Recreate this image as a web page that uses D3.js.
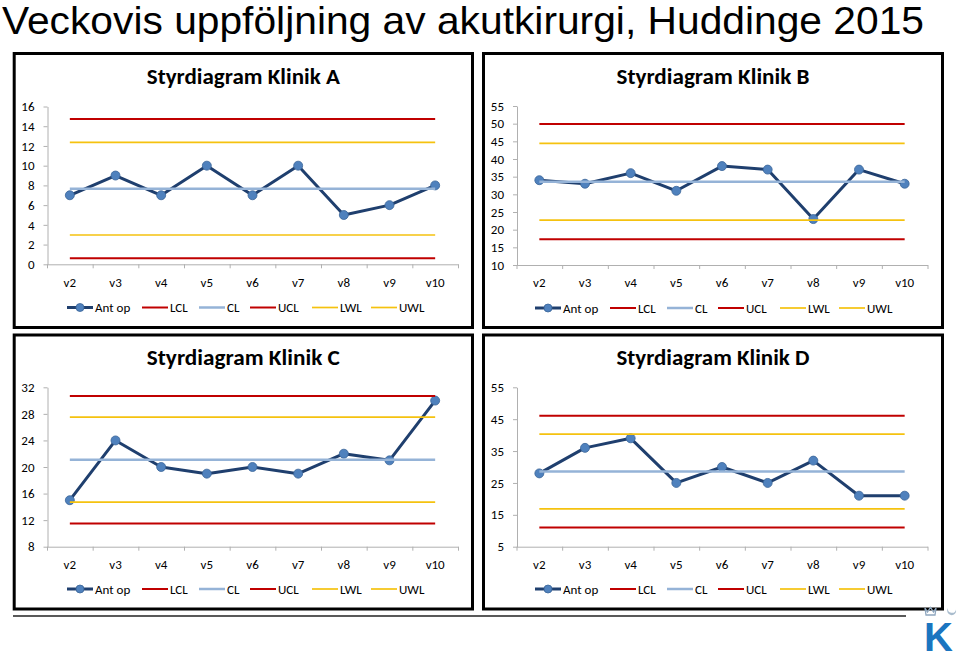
<!DOCTYPE html>
<html><head><meta charset="utf-8">
<script src="https://cdn.jsdelivr.net/npm/d3@7"></script>
<style>body{margin:0;background:#fff}svg{display:block}</style>
</head><body>
<svg id="c" width="959" height="659"></svg>
<script>
// ---- data ----
const mainTitle = "Veckovis uppföljning av akutkirurgi, Huddinge 2015";
const categories = ["v2","v3","v4","v5","v6","v7","v8","v9","v10"];
const seriesNames = ["Ant op","LCL","CL","UCL","LWL","UWL"];
const limitNames = ["LCL","CL","UCL","LWL","UWL"];

const titleA = "Styrdiagram Klinik A";
const antA = [7,9,7,10,7,10,5,6,8];
const limA = [0.62,7.67,14.72,2.97,12.37];
const ticksA = [0,2,4,6,8,10,12,14,16];

const titleB = "Styrdiagram Klinik B";
const antB = [34,33,36,31,38,37,23,37,33];
const limB = [17.3,33.56,49.9,22.7,44.4];
const ticksB = [10,15,20,25,30,35,40,45,50,55];

const titleC = "Styrdiagram Klinik C";
const antC = [15,24,20,19,20,19,22,21,30];
const limC = [11.5,21.11,30.7,14.7,27.5];
const ticksC = [8,12,16,20,24,28,32];

const titleD = "Styrdiagram Klinik D";
const antD = [28,36,39,25,30,25,32,21,21];
const limD = [11.0,28.56,46.1,16.85,40.3];
const ticksD = [5,15,25,35,45,55];

// ---- styles ----
const colors = {"Ant op":"#1F3F6E","LCL":"#C00000","CL":"#95B3D7","UCL":"#C00000","LWL":"#F5C20F","UWL":"#F5C20F"};
const widths = {"Ant op":3,"LCL":2,"CL":2.5,"UCL":2,"LWL":1.7,"UWL":1.7};
const markerFill = "#4F81BD", markerStroke = "#3A6598";
const axisColor = "#B0B0B0";
const fontUI = "Carlito, Lato, 'Open Sans', sans-serif";

const svg = d3.select("#c");

svg.append("text").attr("x",2).attr("y",34)
  .attr("font-family","'Liberation Sans', Arial, sans-serif").attr("font-size",39)
  .attr("textLength",922).attr("lengthAdjust","spacingAndGlyphs")
  .attr("fill","#000").text(mainTitle);

const panels = [
  {title:titleA, ant:antA, lim:limA, ticks:ticksA, frame:[14.2,53.5,472.5,327.5], xr:[47,458], yr:[264.3,106.5], titleY:84, legendY:307.5, legendX:67},
  {title:titleB, ant:antB, lim:limB, ticks:ticksB, frame:[483.5,53.5,942.5,327.5], xr:[516.5,927.5], yr:[265,106], titleY:84, legendY:308, legendX:535},
  {title:titleC, ant:antC, lim:limC, ticks:ticksC, frame:[14.2,335,472.5,609], xr:[47,458], yr:[546.7,387.3], titleY:365, legendY:589, legendX:67},
  {title:titleD, ant:antD, lim:limD, ticks:ticksD, frame:[483.5,335,942.5,609], xr:[516.5,927.5], yr:[546.7,387.3], titleY:365, legendY:589, legendX:535}
];

const legendOffsets = [0,75,132,183,245,304];

panels.forEach(p => {
  const g = svg.append("g");
  const [fx0,fy0,fx1,fy1] = p.frame;
  g.append("rect").attr("x",fx0).attr("y",fy0).attr("width",fx1-fx0).attr("height",fy1-fy0)
    .attr("fill","#fff").attr("stroke","#000").attr("stroke-width",3);

  g.append("text").attr("x",(fx0+fx1)/2).attr("y",p.titleY).attr("text-anchor","middle")
    .attr("font-family",fontUI).attr("font-weight","bold").attr("font-size",23)
    .attr("textLength",193).attr("lengthAdjust","spacingAndGlyphs")
    .text(p.title);

  const x = d3.scaleBand().domain(categories).range(p.xr);
  const xl = d3.scaleLinear().domain([0,categories.length]).range(p.xr);
  const dom = d3.extent(p.ticks);
  const y = d3.scaleLinear().domain(dom).range(p.yr);

  // y axis
  const ya = g.append("g").attr("transform",`translate(${p.xr[0]+0.5},0)`)
    .call(d3.axisLeft(y).tickValues(p.ticks).tickSize(4).tickSizeOuter(0).tickPadding(9));
  ya.selectAll("path,line").attr("stroke",axisColor);
  ya.selectAll("text").attr("font-family",fontUI).attr("font-size",13).attr("fill","#000");

  // x axis: ticks at band boundaries, labels at centers
  const xt = g.append("g").attr("transform",`translate(0,${p.yr[0]})`)
    .call(d3.axisBottom(xl).tickValues(d3.range(categories.length+1)).tickFormat("").tickSize(4).tickSizeOuter(0));
  xt.selectAll("path,line").attr("stroke",axisColor);
  const xa = g.append("g").attr("transform",`translate(0,${p.yr[0]})`)
    .call(d3.axisBottom(x).tickSize(0).tickPadding(13));
  xa.select("path").remove();
  xa.selectAll("text").attr("font-family",fontUI).attr("font-size",13).attr("fill","#000");

  const line = d3.line().x(d => x(d.c) + x.bandwidth()/2).y(d => y(d.v));

  // Ant op series
  const antData = categories.map((c,i) => ({c, v:p.ant[i]}));
  g.append("path").datum(antData).attr("d",line).attr("fill","none")
    .attr("stroke",colors["Ant op"]).attr("stroke-width",widths["Ant op"]).attr("stroke-linejoin","round");
  g.selectAll("circle.m").data(antData).join("circle").attr("class","m")
    .attr("cx",d => x(d.c)+x.bandwidth()/2).attr("cy",d => y(d.v)).attr("r",4.5)
    .attr("fill",markerFill).attr("stroke",markerStroke).attr("stroke-width",0.8);

  // control limit series
  limitNames.forEach((name,k) => {
    const data = categories.map(c => ({c, v:p.lim[k]}));
    g.append("path").datum(data).attr("d",line).attr("fill","none")
      .attr("stroke",colors[name]).attr("stroke-width",widths[name]);
  });

  // legend
  seriesNames.forEach((name,k) => {
    const lx = p.legendX + legendOffsets[k];
    g.append("line").attr("x1",lx).attr("x2",lx+26).attr("y1",p.legendY).attr("y2",p.legendY)
      .attr("stroke",colors[name]).attr("stroke-width",widths[name]);
    if (name === "Ant op") {
      g.append("circle").attr("cx",lx+13).attr("cy",p.legendY).attr("r",4)
        .attr("fill",markerFill).attr("stroke",markerStroke).attr("stroke-width",0.8);
    }
    g.append("text").attr("x",lx+28).attr("y",p.legendY).attr("dy","0.35em")
      .attr("font-family",fontUI).attr("font-size",13).attr("fill","#000").text(name);
  });
});

// bottom rule
svg.append("line").attr("x1",13).attr("x2",906).attr("y1",616).attr("y2",616)
  .attr("stroke","#222").attr("stroke-width",1.5);

// logo
const logo = svg.append("g");
logo.append("text").attr("x",924).attr("y",651).attr("font-family","'Liberation Sans', Arial, sans-serif")
  .attr("font-weight","bold").attr("font-size",40).attr("fill","#1B75C0").text("K");
logo.append("path").attr("d","M925,608 L927.5,612 L930.5,607.5 L933.5,612 L936,608 L935,615 L926,615 Z")
  .attr("fill","none").attr("stroke","#8FA7BF").attr("stroke-width",1.3);
logo.append("path").attr("d","M948,608 A4.5,4.5 0 1,0 956,609.5 A3.5,3.5 0 1,1 948,608 Z")
  .attr("fill","#A9BCCD");
</script>
</body></html>
